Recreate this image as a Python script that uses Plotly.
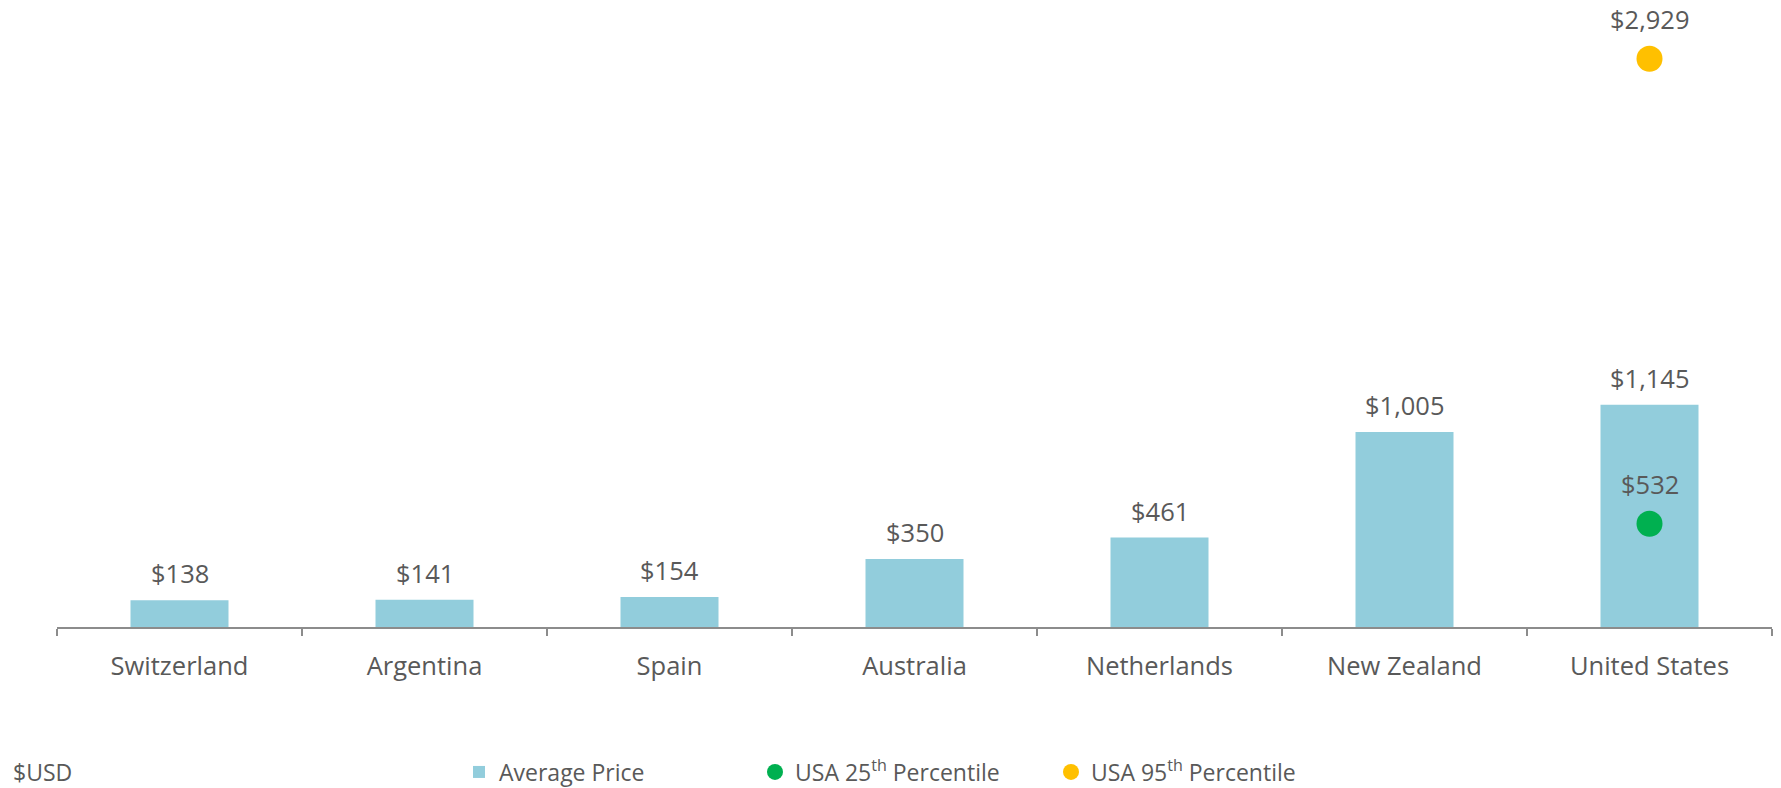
import plotly.graph_objects as go

countries = ["Switzerland", "Argentina", "Spain", "Australia", "Netherlands", "New Zealand", "United States"]
avg_price = [138, 141, 154, 350, 461, 1005, 1145]
usa_p25 = [532]
usa_p95 = [2929]
usa_cat = ["United States"]

TXT = "#595959"
FONT = "Open Sans"
FS = 25.5

def fmt(v):
    return "${:,}".format(v)

fig = go.Figure()
fig.add_trace(go.Bar(
    x=countries, y=avg_price, name="Average Price",
    marker=dict(color="#92CDDC", line=dict(width=0)),
))
fig.add_trace(go.Scatter(
    x=usa_cat, y=usa_p25, name="USA 25<sup>th</sup> Percentile", mode="markers",
    marker=dict(color="#00B050", size=26),
))
fig.add_trace(go.Scatter(
    x=usa_cat, y=usa_p95, name="USA 95<sup>th</sup> Percentile", mode="markers",
    marker=dict(color="#FFC000", size=26), cliponaxis=False,
))

# value labels on bars
for xv, yv in zip(countries, avg_price):
    fig.add_annotation(x=xv, y=yv, text=fmt(yv), showarrow=False, yshift=27, yanchor="middle",
                       font=dict(size=FS, color=TXT, family=FONT))
# value labels on dots
for xs, ys in [(usa_cat, usa_p25), (usa_cat, usa_p95)]:
    for xv, yv in zip(xs, ys):
        fig.add_annotation(x=xv, y=yv, text=fmt(yv), showarrow=False, yshift=40, yanchor="middle",
                           font=dict(size=FS, color=TXT, family=FONT))

L, R, T, B = 57, 9, 45, 161
PW = 1781 - L - R
PH = 788 - T - B
LEG_Y = -(772 - (788 - B)) / PH

fig.add_annotation(xref="paper", yref="paper", x=(11 - L) / PW, y=LEG_Y, xanchor="left", yanchor="middle",
                   text="$USD", showarrow=False, font=dict(size=23, color=TXT, family=FONT))

fig.update_layout(
    width=1781, height=788,
    margin=dict(l=L, r=R, t=T, b=B, autoexpand=False),
    paper_bgcolor="white", plot_bgcolor="white",
    bargap=0.6,
    font=dict(family=FONT, color=TXT, size=FS),
    showlegend=True,
    legend=dict(orientation="h", x=(459 - L) / PW, xanchor="left", y=LEG_Y, yanchor="middle",
                font=dict(size=23, color=TXT, family=FONT), entrywidth=251, entrywidthmode="pixels",
                itemsizing="trace", traceorder="normal"),
    xaxis=dict(showline=True, linecolor="#8c8c8c", linewidth=1.5, ticks="outside", tickson="boundaries",
               ticklen=7, tickcolor="#8c8c8c", tickwidth=1.5, showgrid=False, ticklabelstandoff=16,
               tickfont=dict(size=FS, color=TXT, family=FONT)),
    yaxis=dict(visible=False, range=[0, 3000], showgrid=False, zeroline=False),
)

fig.write_html("out.html", config={"displayModeBar": False},
               post_script="document.body.style.margin='0';document.body.style.overflow='hidden';")
